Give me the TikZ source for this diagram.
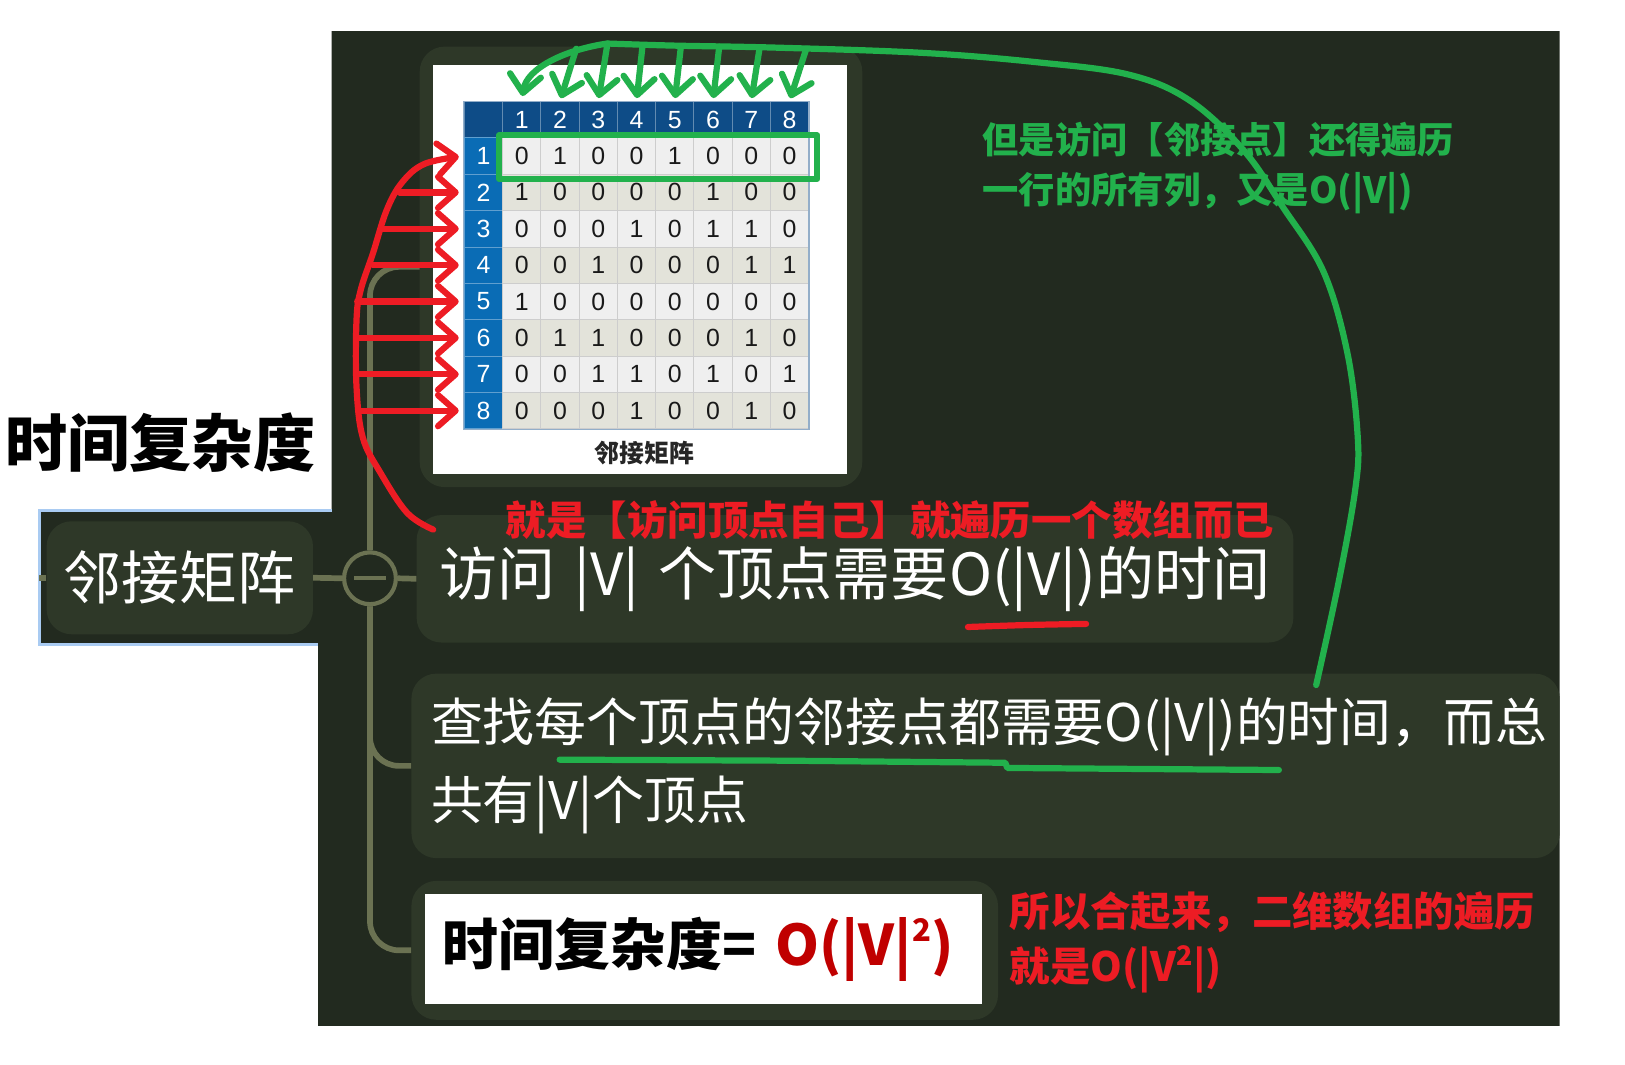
\documentclass[tikz,border=0pt]{standalone}
\usepackage{fontspec}
\setmainfont{Noto Sans CJK SC}
\newfontfamily\numfont{Liberation Sans}
\usetikzlibrary{arrows.meta, positioning, calc}
\definecolor{panelfill}{HTML}{222A1F}
\definecolor{nodefill}{HTML}{2E3828}
\definecolor{linkdraw}{HTML}{6B7252}
\definecolor{glowdraw}{HTML}{A9CBF2}
\definecolor{hdrfill}{HTML}{0E4C87}
\definecolor{rowfill}{HTML}{0A6CB5}
\definecolor{cellA}{HTML}{EFEFEF}
\definecolor{cellB}{HTML}{E3E3DA}
\definecolor{griddraw}{HTML}{CDCDCD}
\definecolor{penred}{HTML}{ED1C24}
\definecolor{pengreen}{HTML}{22B14C}
\definecolor{darkred}{HTML}{C00000}
\tikzset{
  mnode/.style={rectangle, rounded corners=24pt, fill=nodefill, inner sep=0pt},
  hand/.style={text=white, font=\fontsize{56}{60}\selectfont},
  link/.style={draw=linkdraw, line width=5.5pt, rounded corners=28pt},
  cell/.style={rectangle, draw=griddraw, line width=0.8pt, minimum width=36.9pt, minimum height=35.1pt, inner sep=0pt, font=\numfont\fontsize{24}{24}\selectfont, text=black!90},
  hdr/.style={cell, fill=hdrfill, draw=hdrfill!65!white, text=white},
  rowhdr/.style={cell, fill=rowfill, draw=rowfill!65!white, text=white},
  tipbarb/.tip={Straight Barb[length=17pt, width=30pt, round]},
  redpen/.style={draw=penred, line width=6pt, line cap=round, line join=round},
  greenpen/.style={draw=pengreen, line width=6pt, line cap=round, line join=round},
  redarr/.style={redpen, -tipbarb},
  greenarr/.style={greenpen, -tipbarb},
  rednote/.style={text=penred, font=\bfseries\fontsize{39}{53}\selectfont, inner sep=0pt, align=left},
  greennote/.style={text=pengreen, font=\bfseries\fontsize{35}{48}\selectfont, inner sep=0pt, align=left},
}

\begin{document}
\begin{tikzpicture}[x=1pt, y=-1pt]
  \useasboundingbox (0,0) rectangle (1568,1027);
  \fill[white] (0,0) rectangle (1568,1027);
  % dark board of the mind map
  \fill[panelfill] (320,30) -- (1505,30) -- (1505,990) -- (307,990) -- (307,622) -- (38,622) -- (38,493) -- (320,493) -- cycle;
  \draw[glowdraw, line width=3pt] (320,493) -- (38,493) -- (38,622) -- (307,622);
  \node[font=\bfseries\fontsize{60}{60}\selectfont, inner sep=0pt] (title) at (155,427) {时间复杂度};

  % map nodes
  \node[mnode, hand, minimum width=257pt, minimum height=109pt] (root) at (173.5,557.5) {邻接矩阵};
  \node[circle, draw=linkdraw, fill=panelfill, line width=4pt, minimum size=50pt, inner sep=0pt] (col) at (357,558) {};
  \draw[linkdraw, line width=4pt] ([xshift=-15pt]col.center) -- ([xshift=15pt]col.center);
  \node[mnode, minimum width=427pt, minimum height=425pt] (img) at (618.5,257.5) {};
  \node[mnode, hand, minimum width=846pt, minimum height=123pt, text width=802pt, align=left] (kid1) at (825,558.5) {访问 |V| 个顶点需要O(|V|)的时间};
  \node[mnode, hand, font=\fontsize{50}{75}\selectfont, minimum width=1108pt, minimum height=178pt, text width=1070pt, align=left] (kid2) at (951,739) {查找每个顶点的邻接点都需要O(|V|)的时间，而总\\共有|V|个顶点};
  \node[mnode, minimum width=566pt, minimum height=134pt] (kid3) at (680,917) {};
  \node[rectangle, fill=white, minimum width=538pt, minimum height=106pt, inner sep=0pt, text width=504pt, align=left, font=\bfseries\fontsize{54}{54}\selectfont] (eq) at (679,916) {时间复杂度= \textcolor{darkred}{O(|V|\raisebox{0.42em}{\fontsize{30}{30}\selectfont 2})}};

  % map links
  \draw[link] (root.east) -- (col.west);
  \draw[link] (col.east) -- (kid1.west);
  \draw[link] (col.north) |- (img.west);
  \draw[link] (col.south) |- (kid2.west);
  \draw[link] (col.south) |- (kid3.west);
  \draw[link, rounded corners=0pt] (root.west) -- ++(-7,0);

  % adjacency matrix picture
  \node[rectangle, fill=white, minimum width=399pt, minimum height=394pt, inner sep=0pt] (shot) at (617.5,260) {};
  \node[hdr, minimum height=35pt] (corner) at (466.5,115.5) {};
  \foreach \cl in {1,...,8}
    \node[hdr, minimum height=35pt] (h-\cl) at ({485+36.9*(\cl-0.5)},115.5) {\cl};
  \foreach \row [count=\rw] in {{0,1,0,0,1,0,0,0},{1,0,0,0,0,1,0,0},{0,0,0,1,0,1,1,0},{0,0,1,0,0,0,1,1},{1,0,0,0,0,0,0,0},{0,1,1,0,0,0,1,0},{0,0,1,1,0,1,0,1},{0,0,0,1,0,0,1,0}}{
    \pgfmathsetmacro\ry{133+35.1*(\rw-0.5)}
    \node[rowhdr] (r-\rw) at (466.5,\ry) {\rw};
    \ifodd\rw \def\cf{cellA}\else \def\cf{cellB}\fi
    \foreach \v [count=\cl] in \row
      \node[cell, fill=\cf] (c-\rw-\cl) at ({485+36.9*(\cl-0.5)},\ry) {\v};
  }
  \draw[hdrfill!45!white, line width=1pt] (corner.north west) rectangle (c-8-8.south east);
  \node[font=\bfseries\fontsize{24}{24}\selectfont, text=black!85, inner sep=0pt] (cap) at (622,437) {邻接矩阵};

  % red marks
  \draw[redarr, shorten >=5pt] plot[smooth, tension=0.6] coordinates {(418,511) (393,495) (367,456) (350,422) (344,373) (344,309) (348,280) (360,244) (373,203) (388,176) (410,158) (r-1.west)};
  \foreach \rw/\dx in {2/62, 3/80, 4/88, 5/103, 6/102, 7/102, 8/100}
    \draw[redarr] ([xshift=-\dx pt]r-\rw.west) -- ([xshift=-5pt]r-\rw.west);
  \node[rednote, anchor=west] (note1) at (488,502) {就是【访问顶点自己】就遍历一个数组而已};
  \coordinate (ul1a) at (934,605);
  \coordinate (ul1b) at (1048,602);
  \draw[redpen] (ul1a) .. controls (990,603) .. (ul1b);
  \node[rednote, anchor=west] (note3) at (974,909.5) {所以合起来，二维数组的遍历\\就是O(|V\raisebox{0.4em}{\fontsize{26}{26}\selectfont 2}|)};

  % green marks
  \draw[greenpen] ($(c-1-1.north west)+(-3,-2)$) rectangle ($(c-1-8.south east)+(8,4)$);
  \coordinate (gend) at (1270,661);
  \coordinate (gtop) at (586,42);
  \draw[greenpen] plot[smooth, tension=0.6] coordinates {(gend) (1292,560) (1308,470) (1310,420) (1300,340) (1277,262) (1238,200) (1200,145) (1148,97) (1089,72) (1000,60) (890,51) (750,46) (650,44) (gtop)};
  \draw[greenarr, shorten >=5pt] (gtop) .. controls (545,48) and (508,66) .. (h-1.north);
  \foreach \cl/\tx/\ty in {2/556/47, 3/586/43, 4/620/44, 5/657/45, 6/694/45, 7/733/46, 8/778/47}{
    \coordinate (gs\cl) at (\tx,\ty);
    \draw[greenarr, shorten >=3pt] (gs\cl) -- (h-\cl.north);
  }
  \node[greennote, anchor=west] (gnote) at (948,162) {但是访问【邻接点】还得遍历\\一行的所有列，又是O(|V|)};
  \coordinate (ul2a) at (540,733);
  \coordinate (ul2b) at (1234,743);
  \draw[greenpen] (ul2a) -- (760,734) -- (970,736) -- (972,741) -- (ul2b);
\end{tikzpicture}
\end{document}
